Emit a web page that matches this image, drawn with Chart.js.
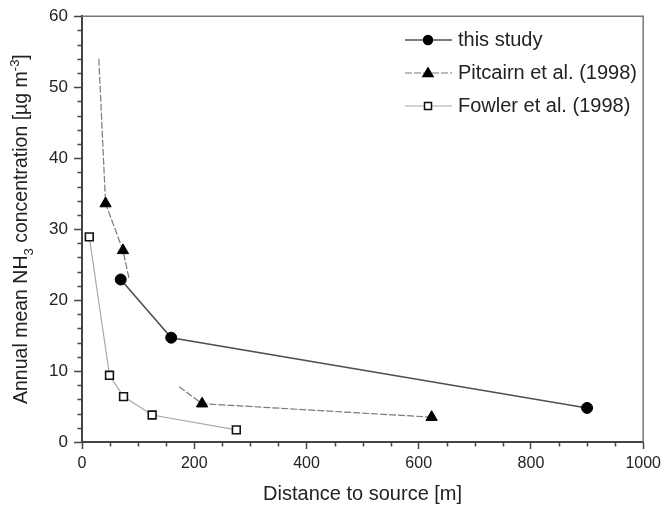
<!DOCTYPE html>
<html>
<head>
<meta charset="utf-8">
<script src="https://cdn.jsdelivr.net/npm/chart.js@4.4.0/dist/chart.umd.min.js"></script>
<style>
  html, body { margin: 0; padding: 0; background: #fff; }
  #wrap { width: 666px; height: 508px; position: relative; }
</style>
</head>
<body>
<div id="wrap"><canvas id="line-chart"></canvas></div>
<script>
// data
const seriesNames = ['this study', 'Pitcairn et al. (1998)', 'Fowler et al. (1998)'];

const studyX = [69, 159, 900];
const studyY = [22.9, 14.7, 4.8];

// Pitcairn line is only partly visible in the figure; unmarked entries are line ends
const pitcairnX = [30, 42, 73, 84, 130, 173, 214, 623];
const pitcairnY = [54, 33.6, 27, 23, null, 7.8, 5.4, 3.5];
const pitcairnMeasured = [false, true, true, false, false, false, true, true];

const fowlerX = [13, 49, 74, 125, 275];
const fowlerY = [28.9, 9.4, 6.4, 3.8, 1.7];

const xTicks = [0, 200, 400, 600, 800, 1000];
const yTicks = [0, 10, 20, 30, 40, 50, 60];

const toPoints = (xs, ys) => xs.map((x, i) => ({x: x, y: ys[i]}));

const FONT = "'Liberation Sans', Arial, sans-serif";
Chart.defaults.font.family = FONT;
Chart.defaults.color = '#222';

// frame + minor ticks
const framePlugin = {
  id: 'frame',
  afterDraw(chart) {
    const {ctx, chartArea: a, scales} = chart;
    ctx.save();
    ctx.strokeStyle = '#777';
    ctx.lineWidth = 1.5;
    ctx.beginPath();
    ctx.moveTo(a.left, a.top);
    ctx.lineTo(a.right, a.top);
    ctx.lineTo(a.right, a.bottom);
    ctx.stroke();

    ctx.strokeStyle = '#444';
    ctx.lineWidth = 1.5;
    ctx.beginPath();
    for (let v = 50; v < 1000; v += 50) {
      if (v % 200 === 0) continue;
      const px = Math.round(scales.x.getPixelForValue(v)) + 0.5;
      ctx.moveTo(px, a.bottom);
      ctx.lineTo(px, a.bottom + 4.5);
    }
    for (let v = 2; v < 60; v += 2) {
      if (v % 10 === 0) continue;
      const py = Math.round(scales.y.getPixelForValue(v)) + 0.5;
      ctx.moveTo(a.left, py);
      ctx.lineTo(a.left - 4.5, py);
    }
    ctx.stroke();
    ctx.restore();
  }
};

// y title with sub/superscripts
const yTitlePlugin = {
  id: 'ytitle',
  afterDraw(chart) {
    const {ctx, chartArea: a} = chart;
    const parts = [
      ['Annual mean NH', 0],
      ['3', 1],
      [' concentration [\u00b5g m', 0],
      ['-3', -1],
      [']', 0]
    ];
    const big = '19.5px ' + FONT;
    const small = '13px ' + FONT;
    ctx.save();
    ctx.translate(22, (a.top + a.bottom) / 2);
    ctx.rotate(-Math.PI / 2);
    ctx.fillStyle = '#222';
    ctx.textBaseline = 'middle';
    let total = 0;
    parts.forEach(p => {
      ctx.font = p[1] ? small : big;
      total += ctx.measureText(p[0]).width;
    });
    let x = -total / 2;
    parts.forEach(p => {
      ctx.font = p[1] ? small : big;
      ctx.fillText(p[0], x, p[1] * 7);
      x += ctx.measureText(p[0]).width;
    });
    ctx.restore();
  }
};

// legend drawn inside the plot
const legendPlugin = {
  id: 'innerLegend',
  afterDraw(chart) {
    const {ctx} = chart;
    ctx.save();
    chart.data.datasets.forEach((ds, i) => {
      const y = 40 + 33 * i;
      ctx.strokeStyle = ds.borderColor;
      ctx.lineWidth = ds.borderWidth;
      ctx.setLineDash(ds.borderDash || []);
      ctx.beginPath();
      ctx.moveTo(405, y);
      ctx.lineTo(452, y);
      ctx.stroke();
      ctx.setLineDash([]);
      ctx.fillStyle = ds.pointBackgroundColor;
      ctx.strokeStyle = ds.pointBorderColor;
      ctx.lineWidth = 1.5;
      ctx.beginPath();
      if (ds.pointStyle === 'circle') {
        ctx.arc(428, y, 4.5, 0, Math.PI * 2);
      } else if (ds.pointStyle === 'triangle') {
        ctx.moveTo(428, y - 5);
        ctx.lineTo(433, y + 3.5);
        ctx.lineTo(423, y + 3.5);
        ctx.closePath();
      } else {
        ctx.rect(424.5, y - 3.5, 7, 7);
      }
      ctx.fill();
      ctx.stroke();
      ctx.fillStyle = '#222';
      ctx.font = '20px ' + FONT;
      ctx.textBaseline = 'middle';
      ctx.fillText(seriesNames[i], 458, y);
    });
    ctx.restore();
  }
};

const ctx = document.getElementById('line-chart').getContext('2d');
window.myLineChart = new Chart(ctx, {
  type: 'line',
  data: {
    datasets: [
      {
        label: seriesNames[0],
        data: toPoints(studyX, studyY),
        borderColor: '#505050',
        borderWidth: 1.6,
        pointStyle: 'circle',
        pointRadius: 5.5,
        pointBackgroundColor: '#000',
        pointBorderColor: '#000',
        pointBorderWidth: 1
      },
      {
        label: seriesNames[1],
        data: toPoints(pitcairnX, pitcairnY),
        borderColor: '#7a7a7a',
        borderWidth: 1.2,
        borderDash: [7, 2],
        spanGaps: false,
        pointStyle: 'triangle',
        pointRadius: c => pitcairnMeasured[c.dataIndex] ? 6.5 : 0,
        pointBackgroundColor: '#000',
        pointBorderColor: '#000',
        pointBorderWidth: 1
      },
      {
        label: seriesNames[2],
        data: toPoints(fowlerX, fowlerY),
        borderColor: '#a8a8a8',
        borderWidth: 1.2,
        pointStyle: 'rect',
        pointRadius: 5.5,
        pointBackgroundColor: '#fff',
        pointBorderColor: '#111',
        pointBorderWidth: 1.6
      }
    ]
  },
  options: {
    responsive: true,
    maintainAspectRatio: false,
    animation: false,
    plugins: {
      legend: { display: false },
      tooltip: { enabled: false }
    },
    layout: {
      padding: { left: 0, right: 21, top: 16, bottom: 0 }
    },
    scales: {
      x: {
        type: 'linear',
        min: 0,
        max: 1000,
        afterBuildTicks: s => { s.ticks = xTicks.map(v => ({value: v})); },
        afterFit: s => { s.height = 66; },
        ticks: { font: { size: 16 }, color: '#222', padding: 5, maxRotation: 0,
                 callback: v => String(v) },
        grid: { drawOnChartArea: false, tickLength: 7, tickColor: '#444', tickWidth: 1.5 },
        border: { color: '#444', width: 2 },
        title: {
          display: true,
          text: 'Distance to source [m]',
          font: { size: 20 },
          color: '#222',
          padding: { top: 0, bottom: 2 }
        }
      },
      y: {
        min: 0,
        max: 60,
        afterBuildTicks: s => { s.ticks = yTicks.map(v => ({value: v})); },
        afterFit: s => { s.width = 82; },
        ticks: { font: { size: 17 }, color: '#222', padding: 6,
                 callback: v => String(v) },
        grid: { drawOnChartArea: false, tickLength: 8, tickColor: '#444', tickWidth: 1.5 },
        border: { color: '#444', width: 2 }
      }
    }
  },
  plugins: [framePlugin, yTitlePlugin, legendPlugin]
});
</script>
</body>
</html>
